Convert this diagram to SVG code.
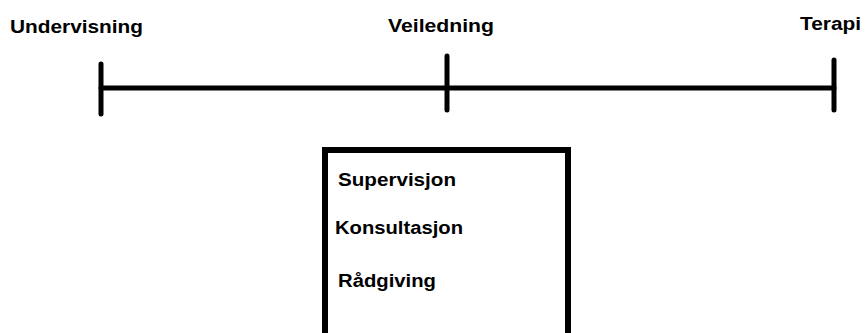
<svg xmlns="http://www.w3.org/2000/svg" width="866" height="333" viewBox="0 0 866 333">
<style>
.t{font-family:"Liberation Sans",Arial,sans-serif;font-weight:bold;font-size:18px;fill:#000}
.ln{stroke:#000;stroke-width:5;stroke-linecap:round;fill:none}
</style>
<rect width="866" height="333" fill="#fff"/>
<g id="connectors">
<line class="ln" x1="101" y1="88" x2="834" y2="88"/>
</g>
<g id="undervisning">
<line class="ln" x1="101" y1="64" x2="101" y2="114"/>
<text class="t" x="10" y="33" textLength="133" lengthAdjust="spacingAndGlyphs">Undervisning</text>
</g>
<g id="veiledning">
<line class="ln" x1="447" y1="56" x2="447" y2="110"/>
<text class="t" x="388" y="32" textLength="106" lengthAdjust="spacingAndGlyphs">Veiledning</text>
</g>
<g id="terapi">
<line class="ln" x1="834" y1="60" x2="834" y2="110"/>
<text class="t" x="800" y="30" textLength="61" lengthAdjust="spacingAndGlyphs">Terapi</text>
</g>
<g id="box">
<rect x="325" y="150" width="243" height="200" fill="none" stroke="#000" stroke-width="6"/>
<text class="t" x="338" y="186" textLength="118" lengthAdjust="spacingAndGlyphs">Supervisjon</text>
<text class="t" x="335" y="234" textLength="128" lengthAdjust="spacingAndGlyphs">Konsultasjon</text>
<text class="t" x="338" y="287" textLength="98" lengthAdjust="spacingAndGlyphs">Rådgiving</text>
</g>
</svg>
